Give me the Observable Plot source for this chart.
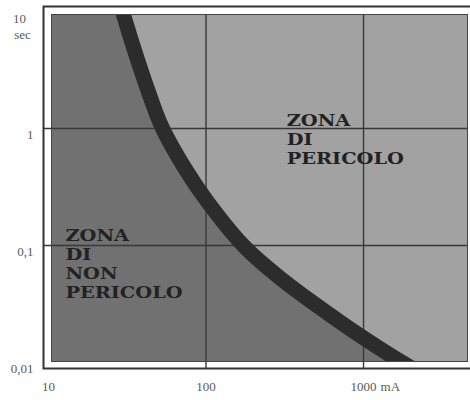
<!DOCTYPE html>
<html><head><meta charset="utf-8">
<script src="https://cdn.jsdelivr.net/npm/d3@7"></script>
<script src="https://cdn.jsdelivr.net/npm/@observablehq/plot@0.6"></script>
<style>body{margin:0;background:#fff}</style>
</head><body><div id="chart"></div>
<script>
// Curve: current (mA) vs time (sec)
const currentMA = [28.3, 29.9, 45.1, 53, 72.9, 100.7, 175, 310, 600, 986, 1718, 2477];
const timeSec   = [12.4, 9.43, 1.73, 1.0, 0.464, 0.243, 0.098, 0.050, 0.026, 0.0164, 0.0102, 0.0077];

const xTicks = [10, 100, 1000];
const xTickLabels = ["10", "100", "1000"];
const xUnit = "mA";
const yTicks = [10, 1, 0.1, 0.01];
const yTickLabels = ["10", "1", "0,1", "0,01"];
const yUnit = "sec";
const xGrid = [100, 1000];
const yGrid = [1, 0.1];

const zoneLabels = ["ZONA\nDI\nPERICOLO", "ZONA\nDI\nNON\nPERICOLO"];
const zoneX = [325, 12.8];
const zoneY = [1.37, 0.1426];

const curve = currentMA.map((c, i) => ({c, t: timeSec[i]}));
const zones = zoneLabels.map((label, i) => ({label, x: zoneX[i], y: zoneY[i]}));
const yTickData = yTicks.map((v, i) => ({v, label: yTickLabels[i]}));

const tickFont = {fontFamily: "Liberation Serif", fontSize: 13, fill: "#5a5a5a"};

const plot = Plot.plot({
  width: 470, height: 400,
  marginLeft: 51, marginRight: 3, marginTop: 14, marginBottom: 39,
  x: {type: "log", domain: [10, 4571], range: [48, 467], axis: null},
  y: {type: "log", domain: [0.01, 10], range: [362, 11], axis: null},
  style: {background: "#fff"},
  marks: [
    Plot.frame({fill: "#a2a2a2"}),
    Plot.areaX(curve, {y: "t", x1: 10, x2: "c", curve: "catmull-rom", fill: "#717171", clip: true}),
    Plot.ruleX(xGrid, {stroke: "#383838", strokeWidth: 1.4, insetBottom: -7}),
    Plot.ruleY(yGrid, {stroke: "#383838", strokeWidth: 1.4, insetLeft: -8}),
    Plot.line(curve, {x: "c", y: "t", curve: "catmull-rom", stroke: "#2c2c2c", strokeWidth: 15, clip: true}),
    Plot.frame({stroke: "#444", strokeWidth: 1}),
    Plot.frame({stroke: "#333", strokeWidth: 2, insetLeft: -8, insetTop: -8, insetBottom: -7, insetRight: -10}),
    Plot.text(zones, {x: "x", y: "y", text: "label", textAnchor: "start", lineAnchor: "top",
      lineHeight: 1.12, fontSize: 17, fontWeight: "bold", fontFamily: "DejaVu Serif", fill: "#222"}),
    Plot.text(xTicks, {x: d => d, text: (d, i) => xTickLabels[i], frameAnchor: "bottom", dy: 29, ...tickFont}),
    Plot.text([xTicks[xTicks.length - 1]], {x: d => d, text: () => xUnit, frameAnchor: "bottom", dy: 29,
      dx: 17, textAnchor: "start", ...tickFont}),
    Plot.text(yTickData.slice(1), {y: "v", text: "label", frameAnchor: "left", textAnchor: "end", dx: -18, dy: 6, ...tickFont}),
    Plot.text(yTickData.slice(0, 1), {y: "v", text: "label", frameAnchor: "left", textAnchor: "middle", dx: -32, dy: 7, ...tickFont}),
    Plot.text(yTickData.slice(0, 1), {y: "v", text: () => yUnit, frameAnchor: "left", textAnchor: "middle", dx: -29, dy: 23, ...tickFont})
  ]
});
plot.querySelectorAll("text").forEach(t => {
  if (!t.textContent.includes("ZONA")) return;
  let tr = t.getAttribute("transform");
  if (!tr) {
    const x = +(t.getAttribute("x") || 0), y = +(t.getAttribute("y") || 0);
    t.removeAttribute("x"); t.removeAttribute("y");
    tr = `translate(${x},${y})`;
  }
  t.setAttribute("transform", tr + " scale(1.14,1)");
});
document.getElementById("chart").appendChild(plot);
</script>
</body></html>
